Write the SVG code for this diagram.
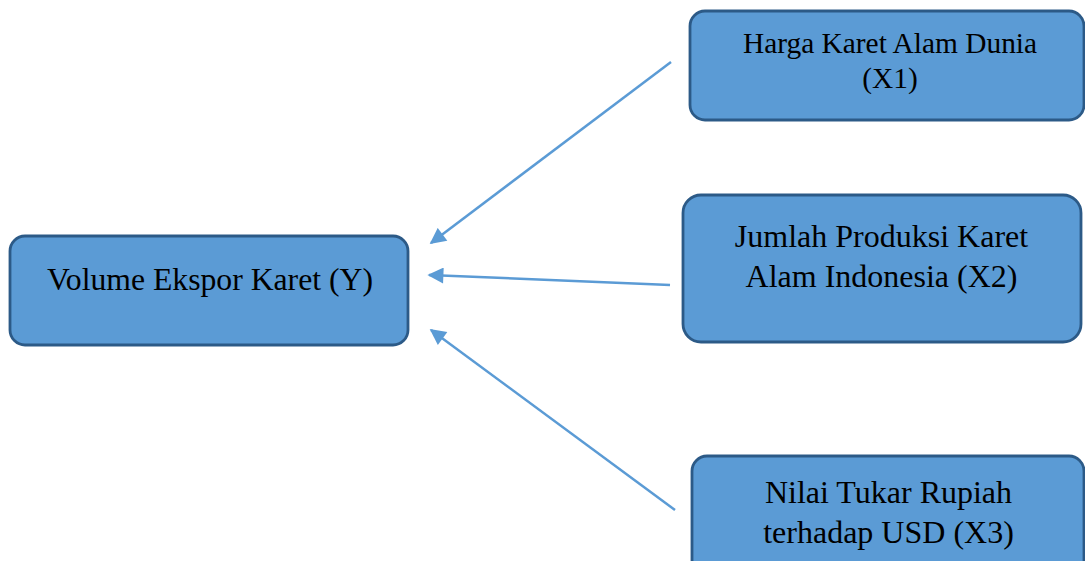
<svg xmlns="http://www.w3.org/2000/svg" width="1085" height="561" viewBox="0 0 1085 561">
<style>
.box{fill:#5b9bd5;stroke:#2c5a87;stroke-width:2.8}
.t{font-family:"Liberation Serif","Times New Roman",serif;fill:#000;text-anchor:middle}
.c{stroke:#5b9bd5;stroke-width:2.5;fill:none;marker-end:url(#ah)}
</style>
<defs>
<marker id="ah" viewBox="0 0 10 10" refX="9" refY="5" markerWidth="7" markerHeight="6.4" orient="auto" markerUnits="strokeWidth">
<path d="M0,0 L10,5 L0,10 z" fill="#5b9bd5"/>
</marker>
</defs>
<rect width="1085" height="561" fill="#fff"/>
<g id="connectors">
<line class="c" x1="671" y1="62" x2="431" y2="243"/>
<line class="c" x1="670" y1="285" x2="429" y2="275"/>
<line class="c" x1="675" y1="510" x2="431" y2="330"/>
</g>
<g id="nodeY">
<rect class="box" x="10" y="236" width="398" height="109" rx="15"/>
<text class="t" x="210" y="290" font-size="31.7">Volume Ekspor Karet (Y)</text>
</g>
<g id="nodeX1">
<rect class="box" x="690" y="11" width="394" height="109" rx="15"/>
<text class="t" x="890" y="53" font-size="29.4">Harga Karet Alam Dunia</text>
<text class="t" x="890" y="88" font-size="29.4">(X1)</text>
</g>
<g id="nodeX2">
<rect class="box" x="683" y="195" width="398" height="147" rx="18"/>
<text class="t" x="881.5" y="247" font-size="32">Jumlah Produksi Karet</text>
<text class="t" x="881.5" y="287" font-size="32">Alam Indonesia (X2)</text>
</g>
<g id="nodeX3">
<rect class="box" x="692" y="456" width="392" height="130" rx="15"/>
<text class="t" x="888.5" y="503" font-size="32">Nilai Tukar Rupiah</text>
<text class="t" x="888.5" y="543" font-size="32">terhadap USD (X3)</text>
</g>
</svg>
